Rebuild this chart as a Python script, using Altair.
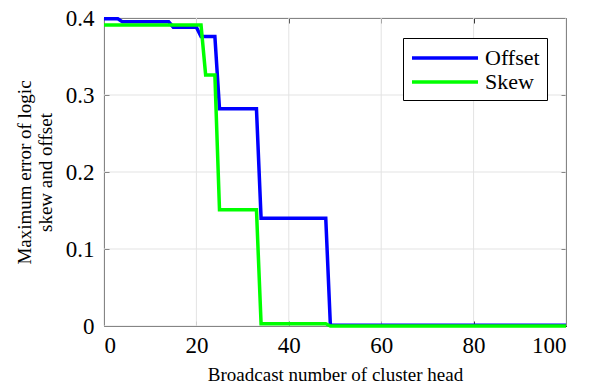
import altair as alt
import pandas as pd

offset_x = [0, 3, 4, 14, 15, 20, 21, 24, 25, 33, 34, 48, 49, 100]
offset_y = [0.399, 0.399, 0.395, 0.395, 0.388, 0.388, 0.376, 0.376, 0.282, 0.282, 0.140, 0.140, 0.001, 0.001]
skew_x = [0, 21, 22, 24, 25, 33, 34, 48, 49, 100]
skew_y = [0.391, 0.391, 0.326, 0.326, 0.151, 0.151, 0.003, 0.003, 0.0, 0.0]

series_names = ["Offset", "Skew"]
series_colors = ["#0000ff", "#00ff00"]

x_ticks = [0, 20, 40, 60, 80, 100]
y_ticks = [0, 0.1, 0.2, 0.3, 0.4]

rows = []
for i, (x, y) in enumerate(zip(offset_x, offset_y)):
    rows.append({"x": x, "y": y, "series": "Offset", "o": i})
for i, (x, y) in enumerate(zip(skew_x, skew_y)):
    rows.append({"x": x, "y": y, "series": "Skew", "o": i})
df = pd.DataFrame(rows)

FONT = "Liberation Serif"
GRID = "#e3e3e3"
AX = "#262626"

xs = alt.Scale(domain=[0, 100], nice=False)
ys = alt.Scale(domain=[0, 0.4], nice=False)

tick_axis = dict(labels=False, domain=False, ticks=True, tickSize=5, offset=-5,
                 tickColor=AX, tickWidth=1, grid=False, title=None)

# vertical grid rules, carrying the inward ticks of the top axis
grid_x = alt.Chart(pd.DataFrame({"v": x_ticks})).mark_rule(color=GRID, strokeWidth=1).encode(
    x=alt.X("v:Q", scale=xs, axis=alt.Axis(orient="top", values=x_ticks, **tick_axis)),
)
# horizontal grid rules, carrying the inward ticks of the right axis
grid_y = alt.Chart(pd.DataFrame({"v": y_ticks})).mark_rule(color=GRID, strokeWidth=1).encode(
    y=alt.Y("v:Q", scale=ys, axis=alt.Axis(orient="right", values=y_ticks, **tick_axis)),
)

lines = alt.Chart(df).mark_line(strokeWidth=3.5, clip=False).encode(
    x=alt.X("x:Q", scale=xs,
            axis=alt.Axis(orient="bottom", values=x_ticks, title="Broadcast number of cluster head",
                          offset=-5, tickSize=5, ticks=True, tickColor=AX, domain=False, grid=False,
                          labelPadding=8, titlePadding=8,
                          labelFont=FONT, labelFontSize=23, titleFont=FONT, titleFontSize=19)),
    y=alt.Y("y:Q", scale=ys,
            axis=alt.Axis(orient="left", values=y_ticks,
                          labelExpr="datum.value == 0 ? '0' : format(datum.value, '.1f')",
                          title=["Maximum error of logic", "skew and offset"],
                          offset=-5, tickSize=5, ticks=True, tickColor=AX, domain=False, grid=False,
                          labelPadding=10, titlePadding=10,
                          labelFont=FONT, labelFontSize=23, titleFont=FONT, titleFontSize=19)),
    color=alt.Color("series:N", scale=alt.Scale(domain=series_names, range=series_colors),
                    legend=alt.Legend(title=None, orient="none", legendX=299, legendY=20,
                                      symbolType="M-1,0L5,0", symbolStrokeWidth=3.5, symbolSize=484,
                                      labelFont=FONT, labelFontSize=22, labelColor="black",
                                      strokeColor="black", fillColor="white", padding=7,
                                      rowPadding=-4, labelOffset=49)),
    order=alt.Order("o:Q"),
)

chart = alt.layer(grid_x, grid_y, lines).resolve_axis(
    x="independent", y="independent"
).properties(
    width=462, height=308,
    background="white",
    autosize=alt.AutoSizeParams(type="none"),
    padding={"left": 104, "top": 18, "right": 23, "bottom": 64},
).configure(
    font=FONT
).configure_view(
    stroke=AX, strokeWidth=1
).configure_axis(
    labelFont=FONT, labelColor="black",
    titleFont=FONT, titleColor="black", titleFontWeight="normal",
)

chart.save("out.html", embed_options={"renderer": "svg", "actions": False})
